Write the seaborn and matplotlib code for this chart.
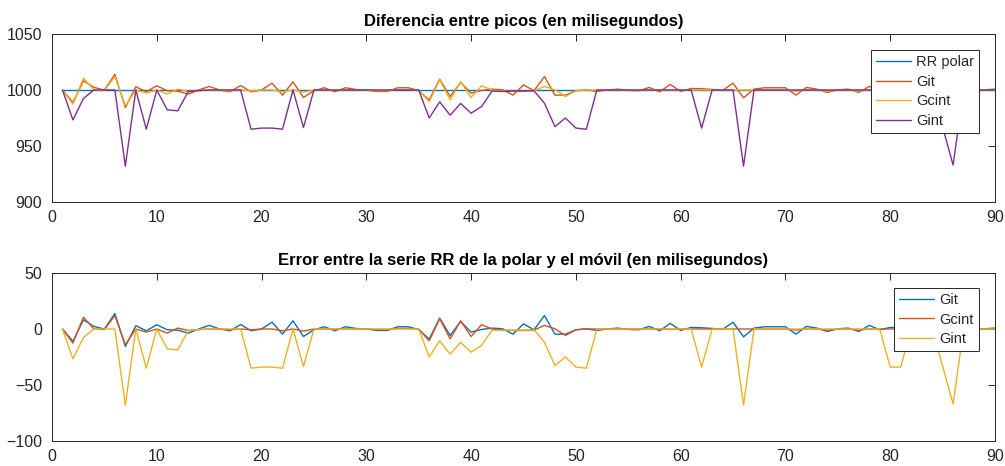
import numpy as np
import pandas as pd
import matplotlib
matplotlib.use("Agg")
import matplotlib.pyplot as plt
import seaborn as sns

# Beat index of each RR interval
beats = list(range(1, 92))

# RR intervals (ms): chest strap reference and the three phone estimators
rr_polar = [1000.0] * len(beats)

git = [1000, 989, 1008.2, 1002.3, 1000, 1013.9, 984.4, 1002.9, 998.4, 1003.8,
       999.3, 999, 996.3, 1000, 1003.2, 1000, 998.4, 1004, 998.4, 1000,
       1006.1, 995.4, 1007.3, 993.3, 999.3, 1002, 998.4, 1002, 1000.5, 1000,
       998.7, 998.7, 1002, 1002, 999.5, 991, 1009.7, 994.2, 1006.7, 997.2,
       999.6, 1000.8, 1000.2, 995.4, 1004.6, 999.3, 1012, 995.4, 995.4, 999.3,
       1000.2, 998.7, 1000, 1000.8, 999.6, 999.3, 1002.3, 998.4, 1005, 998.7,
       1001.4, 1001.1, 1000.5, 999.6, 1006.1, 993, 1000.8, 1002, 1002, 1002,
       995.4, 1002.3, 1000.8, 997.8, 1000.2, 1000.8, 997.8, 1003.2, 999.3, 1001.4,
       1001, 1000.5, 1000, 1000.5, 1000, 1000.5, 1000, 1000.3, 1000.2, 1000.8,
       1001.5]

gcint = [1000, 987.4, 1010.6, 1000, 999.5, 1012, 986, 1000, 997.2, 1000,
         996.3, 1000.8, 998.7, 999.5, 1000, 1000, 999.3, 1000, 999.3, 1000,
         1000, 998.4, 1000, 998.1, 1000, 1000, 1000, 1000, 1000, 1000,
         999.5, 999.5, 1000.5, 1000.5, 1000, 989.4, 1009.1, 991.2, 1007.3, 993.3,
         1003.8, 1000, 999, 998.7, 998.7, 999, 1003.2, 1000.2, 994.2, 999.3,
         1000, 1000, 1000, 1000, 1000, 1000, 1000, 1000, 999.6, 1000,
         1000, 1000, 1000, 1000, 1000, 1000, 1000, 1000, 1000, 1000,
         999, 1000, 1000, 999, 1000, 1000, 999, 1000, 1000, 1000,
         1000, 1000, 1000, 1000, 1000, 1000, 1000, 1000, 1000, 1000,
         1000]

gint = [1000, 973.3, 992.4, 1000, 1000, 1000, 932, 1000, 965, 1000,
        982.3, 981.4, 998.5, 999.5, 1000, 1000, 1000, 1000, 965, 966,
        966, 965, 1000, 966.5, 1000, 1000, 1000, 1000, 1000, 1000,
        1000, 1000, 1000, 1000, 1000, 975, 989.4, 977.5, 988, 979.3,
        985.3, 999, 998.7, 999, 999, 999.3, 988.2, 967.3, 975, 966,
        965, 1000, 1000, 1000, 1000, 1000, 1000, 1000, 1000, 1000,
        1000, 966, 1000, 1000, 1000, 932, 1000, 1000, 1000, 1000,
        1000, 1000, 1000, 1000, 1000, 1000, 1000, 1000, 1000, 966,
        966, 1000, 1000, 1000, 967, 933, 1000, 1000, 1000, 1000,
        1000]

x_ticks = [0, 10, 20, 30, 40, 50, 60, 70, 80, 90]
top_yticks = [900, 950, 1000, 1050]
bottom_yticks = [-100, -50, 0, 50]

blue, orange, yellow, purple = "#0072BD", "#D95319", "#EDB120", "#7E2F8E"
ink = "#262626"

sns.set_style("white")
plt.rcParams["font.family"] = ["Liberation Sans", "DejaVu Sans"]
plt.rcParams["axes.edgecolor"] = ink
plt.rcParams["axes.linewidth"] = 0.7

W, H = 1005, 466
fig = plt.figure(figsize=(W / 100, H / 100), dpi=100)
ax1 = fig.add_axes([52 / W, 1 - 202 / H, 943 / W, 168 / H])
ax2 = fig.add_axes([52 / W, 1 - 441 / H, 943 / W, 168 / H])

top = pd.DataFrame({"beat": beats, "RR polar": rr_polar, "Git": git,
                    "Gcint": gcint, "Gint": gint})
for name, col in [("RR polar", blue), ("Git", orange), ("Gcint", yellow), ("Gint", purple)]:
    sns.lineplot(data=top, x="beat", y=name, color=col, lw=1.0, label=name,
                 ax=ax1, sort=False, legend=False)

ref = np.array(rr_polar)
err = pd.DataFrame({"beat": beats,
                    "Git": np.array(git) - ref,
                    "Gcint": np.array(gcint) - ref,
                    "Gint": np.array(gint) - ref})
for name, col in [("Git", blue), ("Gcint", orange), ("Gint", yellow)]:
    sns.lineplot(data=err, x="beat", y=name, color=col, lw=1.0, label=name,
                 ax=ax2, sort=False, legend=False)


def style(ax, yticks, title, anchor):
    ax.set_xlim(0, 90)
    ax.set_ylim(yticks[0], yticks[-1])
    ax.set_xticks(x_ticks)
    ax.set_yticks(yticks)
    ax.set_xlabel("")
    ax.set_ylabel("")
    ax.tick_params(direction="in", top=True, right=True, length=5, width=0.7,
                   colors=ink, labelsize=11.5)
    ax.tick_params(axis="y", pad=7)
    ax.tick_params(axis="x", pad=6)
    for s in ax.spines.values():
        s.set_visible(True)
        s.set_color(ink)
        s.set_linewidth(0.7)
    ax.set_title(title, fontsize=12, fontweight="bold", color="black", pad=6)
    leg = ax.legend(loc="upper right", bbox_to_anchor=anchor, borderaxespad=0,
                    frameon=True, fancybox=False, framealpha=1, edgecolor=ink,
                    fontsize=10.5, handlelength=2.4, handletextpad=0.35,
                    borderpad=0.35, labelspacing=0.38)
    leg.get_frame().set_linewidth(0.7)


style(ax1, top_yticks, "Diferencia entre picos (en milisegundos)", (0.983, 0.905))
style(ax2, bottom_yticks, "Error entre la serie RR de la polar y el móvil (en milisegundos)",
      (0.983, 0.911))

fig.savefig("out.png", dpi=100)
